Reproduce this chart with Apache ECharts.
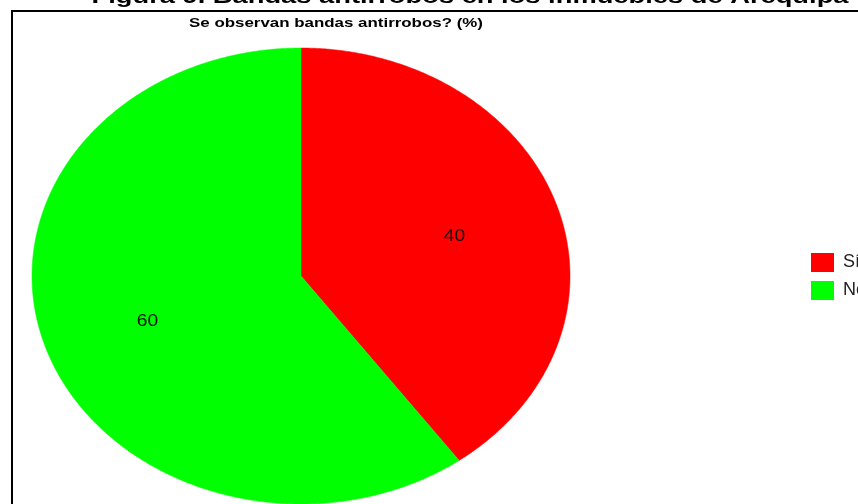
<!DOCTYPE html>
<html>
<head>
<meta charset="utf-8">
<script src="https://cdn.jsdelivr.net/npm/echarts@6/dist/echarts.min.js"></script>
<style>
  html, body { margin: 0; padding: 0; background: #fff; }
  #chart { width: 858px; height: 504px; }
</style>
</head>
<body>
<div id="chart"></div>
<script>
// ---- data ----
const categories = ['Sí', 'No'];
const values = [40, 60];
const colors = ['#FF0000', '#00FF00'];
const chartTitle = 'Se observan bandas antirrobos? (%)';
const figureCaption = 'Figura 9. Bandas antirrobos en los inmuebles de Arequipa';

// ---- layout (ellipse pie) ----
const CX = 301, CY = 276, RX = 269, RY = 228, LABEL_R = 0.6;
const total = values.reduce((a, b) => a + b, 0);

function makeRender(idx) {
  return function (params, api) {
    const v = api.value(0);
    const start = values.slice(0, idx).reduce((a, b) => a + b, 0);
    const a0 = start / total * Math.PI * 2;
    const a1 = (start + v) / total * Math.PI * 2;
    const pts = [[CX, CY]];
    const steps = Math.max(8, Math.ceil((a1 - a0) / (Math.PI / 360)));
    for (let s = 0; s <= steps; s++) {
      const t = a0 + (a1 - a0) * s / steps;
      pts.push([CX + RX * Math.sin(t), CY - RY * Math.cos(t)]);
    }
    const am = (a0 + a1) / 2;
    return {
      type: 'group',
      children: [
        { type: 'polygon', shape: { points: pts }, style: { fill: colors[idx], stroke: colors[idx], lineWidth: 0.5 } },
        { type: 'text',
          x: CX + RX * LABEL_R * Math.sin(am),
          y: CY - RY * LABEL_R * Math.cos(am) + 3,
          scaleX: 1.2,
          style: {
            text: String(v),
            x: 0, y: 0,
            align: 'center', verticalAlign: 'middle',
            font: '16px "Liberation Sans", Arial, sans-serif',
            fill: '#111'
          } }
      ]
    };
  };
}

const chart = echarts.init(document.getElementById('chart'), null, { renderer: 'canvas' });
chart.setOption({
  backgroundColor: '#ffffff',
  animation: false,
  graphic: [
    { type: 'rect', shape: { x: 12, y: 11, width: 900, height: 600 },
      style: { fill: 'none', stroke: '#000', lineWidth: 2 }, z: 0 },
    { type: 'text', x: 470, y: 8, scaleX: 1.3,
      style: { text: figureCaption, x: 0, y: 0, align: 'center', verticalAlign: 'bottom',
      font: 'bold 21px "Liberation Sans", Arial, sans-serif', fill: '#000' } },
    { type: 'text', x: 336, y: 23, scaleX: 1.3,
      style: { text: chartTitle, x: 0, y: 0, align: 'center', verticalAlign: 'middle',
      font: 'bold 13px "Liberation Sans", Arial, sans-serif', fill: '#000' } }
  ],
  legend: {
    orient: 'vertical',
    left: 811, top: 253,
    padding: 0,
    icon: 'rect',
    itemWidth: 23, itemHeight: 19, itemGap: 9,
    textStyle: { fontSize: 18, color: '#222', fontFamily: '"Liberation Sans", Arial, sans-serif', padding: [0, 0, 0, 4] },
    data: categories
  },
  series: categories.map((name, i) => ({
    type: 'custom',
    name: name,
    coordinateSystem: 'none',
    itemStyle: { color: colors[i] },
    data: [[values[i]]],
    renderItem: makeRender(i)
  }))
});
</script>
</body>
</html>
